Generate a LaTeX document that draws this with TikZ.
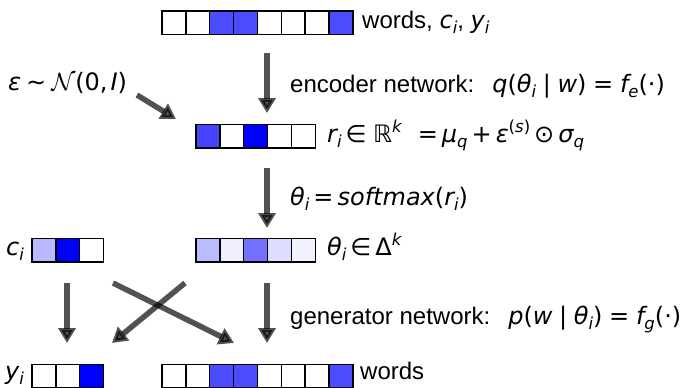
\documentclass[tikz,border=0pt]{standalone}
\usepackage{fontspec}
\setmainfont{Liberation Sans}
\newfontfamily\dvs{DejaVu Sans}
\usetikzlibrary{arrows.meta,positioning}
\definecolor{Blu}{RGB}{0,0,255}
\definecolor{BluMid}{RGB}{75,75,255}
\definecolor{BluR}{RGB}{68,68,255}
\definecolor{ThA}{RGB}{187,187,255}
\definecolor{ThB}{RGB}{238,238,255}
\definecolor{ThC}{RGB}{114,114,255}
\definecolor{ThD}{RGB}{221,221,255}
\definecolor{ThE}{RGB}{242,242,255}
\definecolor{CiA}{RGB}{184,184,255}
\newcommand{\mv}[1]{{\dvs\itshape #1}}
\newcommand{\lo}[1]{\raisebox{-5pt}{\fontsize{16.5}{16.5}\selectfont\dvs\itshape #1}}
\newcommand{\hi}[1]{\raisebox{10pt}{\fontsize{16.5}{16.5}\selectfont\dvs\itshape #1}}
\tikzset{
  cell/.style={draw=black,line width=1.6pt,minimum width=23.9pt,minimum height=23.6pt,
               inner sep=0pt,anchor=north west},
  lbl/.style={anchor=base west,inner sep=0pt,font=\fontsize{24}{28}\selectfont},
  flow/.style={line width=5.5pt,draw=black,opacity=0.68,
               -{Triangle[length=15pt,width=17pt]}},
}

\begin{document}
\begin{tikzpicture}[x=1pt,y=-1pt]
  \useasboundingbox (0,0) rectangle (683,388);
  % word vectors
  \foreach \c [count=\k from 0] in {white,white,BluMid,BluMid,white,white,white,BluMid}
    \node[cell,fill=\c] (win\k) at (161+23.9*\k,10) {};
  \foreach \c [count=\k from 0] in {white,white,BluMid,BluMid,white,white,white,BluMid}
    \node[cell,fill=\c] (wout\k) at (161+23.9*\k,363.5) {};
  % latent vectors
  \foreach \c [count=\k from 0] in {BluR,white,Blu,white,white}
    \node[cell,fill=\c] (r\k) at (195+23.9*\k,123.5) {};
  \foreach \c [count=\k from 0] in {ThA,ThB,ThC,ThD,ThE}
    \node[cell,fill=\c] (th\k) at (195+23.9*\k,237.5) {};
  % labels
  \foreach \c [count=\k from 0] in {CiA,Blu,white}
    \node[cell,fill=\c] (ci\k) at (31+23.9*\k,237.5) {};
  \foreach \c [count=\k from 0] in {white,white,Blu}
    \node[cell,fill=\c] (yi\k) at (31+23.9*\k,363.5) {};

  \node[lbl] (winl) at (362,28) {words, \mv{c}\lo{i}, \mv{y}\lo{i}};
  \node[lbl] (epsl) at (8,90) {\mv{ε}\hspace{5pt}{\dvs∼}\hspace{5pt}$\mathcal{N}${\dvs(0,\hspace{3pt}\mv{I})}};
  \node[lbl] (encl) at (290,92) {encoder network:\hspace{18pt}\mv{q}{\dvs(}\mv{θ}\lo{i} {\dvs|} \mv{w}{\dvs)} {\dvs=} \mv{f}\lo{e}{\dvs(⋅)}};
  \node[lbl] (rl) at (327,142) {\mv{r}\lo{i}\,{\dvs∈} {\dvs ℝ}\hi{k}\hspace{16pt}{\dvs=}\,\mv{μ}\lo{q}\,{\dvs+}\,\mv{ε}\hi{\upshape(\itshape s\upshape)}\,{\dvs⊙}\,\mv{σ}\lo{q}};
  \node[lbl] (sml) at (290,205) {\mv{θ}\lo{i}\,{\dvs=}\,\mv{softmax}{\dvs(}\mv{r}\lo{i}{\dvs)}};
  \node[lbl] (thl) at (327,255) {\mv{θ}\lo{i}\,{\dvs∈}\,{\dvs Δ}\hi{k}};
  \node[lbl] (cil) at (6,255) {\mv{c}\lo{i}};
  \node[lbl] (yil) at (5,379) {\mv{y}\lo{i}};
  \node[lbl] (genl) at (290,324) {generator network:\hspace{18pt}\mv{p}{\dvs(}\mv{w} {\dvs|} \mv{θ}\lo{i}{\dvs)} {\dvs=} \mv{f}\lo{g}{\dvs(⋅)}};
  \node[lbl] (woutl) at (360,379) {words};

  % arrows
  \coordinate (enc-s) at (267,53);  \coordinate (enc-e) at (267,113);
  \coordinate (eps-s) at (137,95);  \coordinate (eps-e) at (176,119);
  \coordinate (sm-s) at (267,168);  \coordinate (sm-e) at (267,228);
  \coordinate (cy-s) at (67,283);   \coordinate (cy-e) at (67,343);
  \coordinate (tw-s) at (267,283);  \coordinate (tw-e) at (267,343);
  \coordinate (cw-s) at (113,283);  \coordinate (cw-e) at (234,343);
  \coordinate (ty-s) at (185,283);  \coordinate (ty-e) at (112,343);
  \draw[flow] (enc-s) -- (enc-e);
  \draw[flow] (eps-s) -- (eps-e);
  \draw[flow] (sm-s) -- (sm-e);
  \draw[flow] (cy-s) -- (cy-e);
  \draw[flow] (tw-s) -- (tw-e);
  \draw[flow] (cw-s) -- (cw-e);
  \draw[flow] (ty-s) -- (ty-e);
\end{tikzpicture}
\end{document}
